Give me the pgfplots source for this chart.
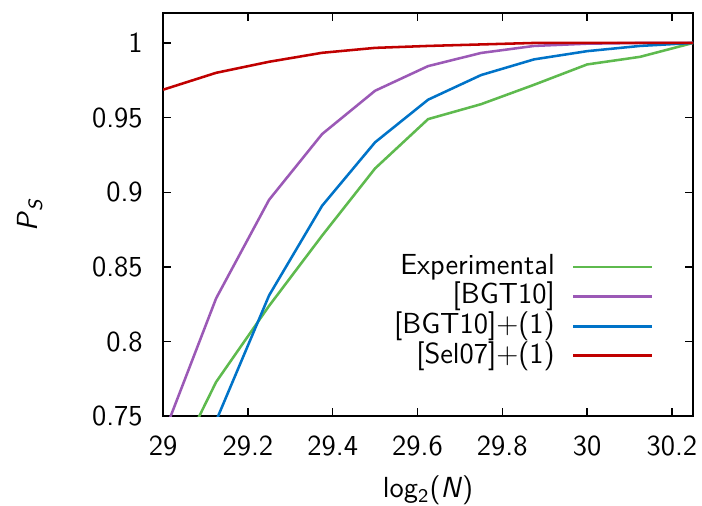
\documentclass[border=0pt]{standalone}
\usepackage{pgfplots}
\pgfplotsset{compat=1.18}
\definecolor{expg}{RGB}{94,186,78}
\definecolor{bgtp}{RGB}{155,89,182}
\definecolor{bgtb}{RGB}{0,115,200}
\definecolor{selr}{RGB}{192,0,0}
\begin{document}
\sffamily\large
\begin{tikzpicture}
  \begin{axis}[
      scale only axis, width=7.70cm, height=5.86cm,
      xmin=29, xmax=30.25, ymin=0.75, ymax=1.02,
      xtick={29,29.2,29.4,29.6,29.8,30,30.2},
      xticklabels={29,29.2,29.4,29.6,29.8,30,30.2},
      ytick={0.75,0.8,0.85,0.9,0.95,1},
      yticklabels={0.75,0.8,0.85,0.9,0.95,1},
      /pgf/number format/assume math mode=true,
      ticklabel style={font=\sffamily\large},
      xticklabel style={yshift=-0.14cm},
      yticklabel style={xshift=-0.15cm},
      tick align=inside, major tick length=0.12cm,
      tick style={black, line width=0.6pt},
      axis line style={line width=0.8pt},
      xlabel={log\textsubscript{2}(\textit{N})},
      ylabel={\textit{P}\textsubscript{\textit{S}}},
      xlabel style={at={(axis description cs:0.5,-0.184)}, anchor=center, font=\sffamily\large},
      ylabel style={at={(axis description cs:-0.251,0.5)}, anchor=center, font=\sffamily\large},
      legend plot pos=right, legend cell align=right,
      legend style={draw=none, fill=none, font=\sffamily\large,
        at={(axis description cs:0.94,0.422)}, anchor=north east,
        nodes={inner sep=1pt, text height=8.5pt, text depth=2.5pt},
        row sep=-0.8pt},
      legend image code/.code={\path (0cm,0cm); \draw[#1] (0.215cm,0cm) -- (1.363cm,0cm);},
      every axis plot/.append style={line width=1.05pt},
    ]
    \addplot[expg] coordinates {(29,0.701)(29.125,0.773)(29.25,0.824)(29.375,0.871)(29.5,0.916)(29.625,0.949)(29.75,0.959)(29.875,0.972)(30,0.9856)(30.125,0.9907)(30.25,1.0)};
    \addlegendentry{Experimental}
    \addplot[bgtp] coordinates {(29,0.737)(29.125,0.829)(29.25,0.895)(29.375,0.939)(29.5,0.968)(29.625,0.9845)(29.75,0.9933)(29.875,0.998)(30,0.9995)(30.125,1.0)(30.25,1.0)};
    \addlegendentry{{[BGT10]}}
    \addplot[bgtb] coordinates {(29,0.66)(29.125,0.747)(29.25,0.831)(29.375,0.891)(29.5,0.9335)(29.625,0.962)(29.75,0.9785)(29.875,0.989)(30,0.9945)(30.125,0.998)(30.25,1.0)};
    \addlegendentry{{[BGT10]+(1)}}
    \addplot[selr] coordinates {(29,0.9687)(29.125,0.980)(29.25,0.9874)(29.375,0.9934)(29.5,0.9967)(29.625,0.998)(29.75,0.999)(29.875,1.0)(30,1.0)(30.125,1.0)(30.25,1.0)};
    \addlegendentry{{[Sel07]+(1)}}
  \end{axis}
  \pgfresetboundingbox
  \path[use as bounding box] ([shift={(-2.37cm,-1.29cm)}]current axis.south west)
    rectangle ([shift={(0.13cm,0.19cm)}]current axis.north east);
\end{tikzpicture}
\end{document}
